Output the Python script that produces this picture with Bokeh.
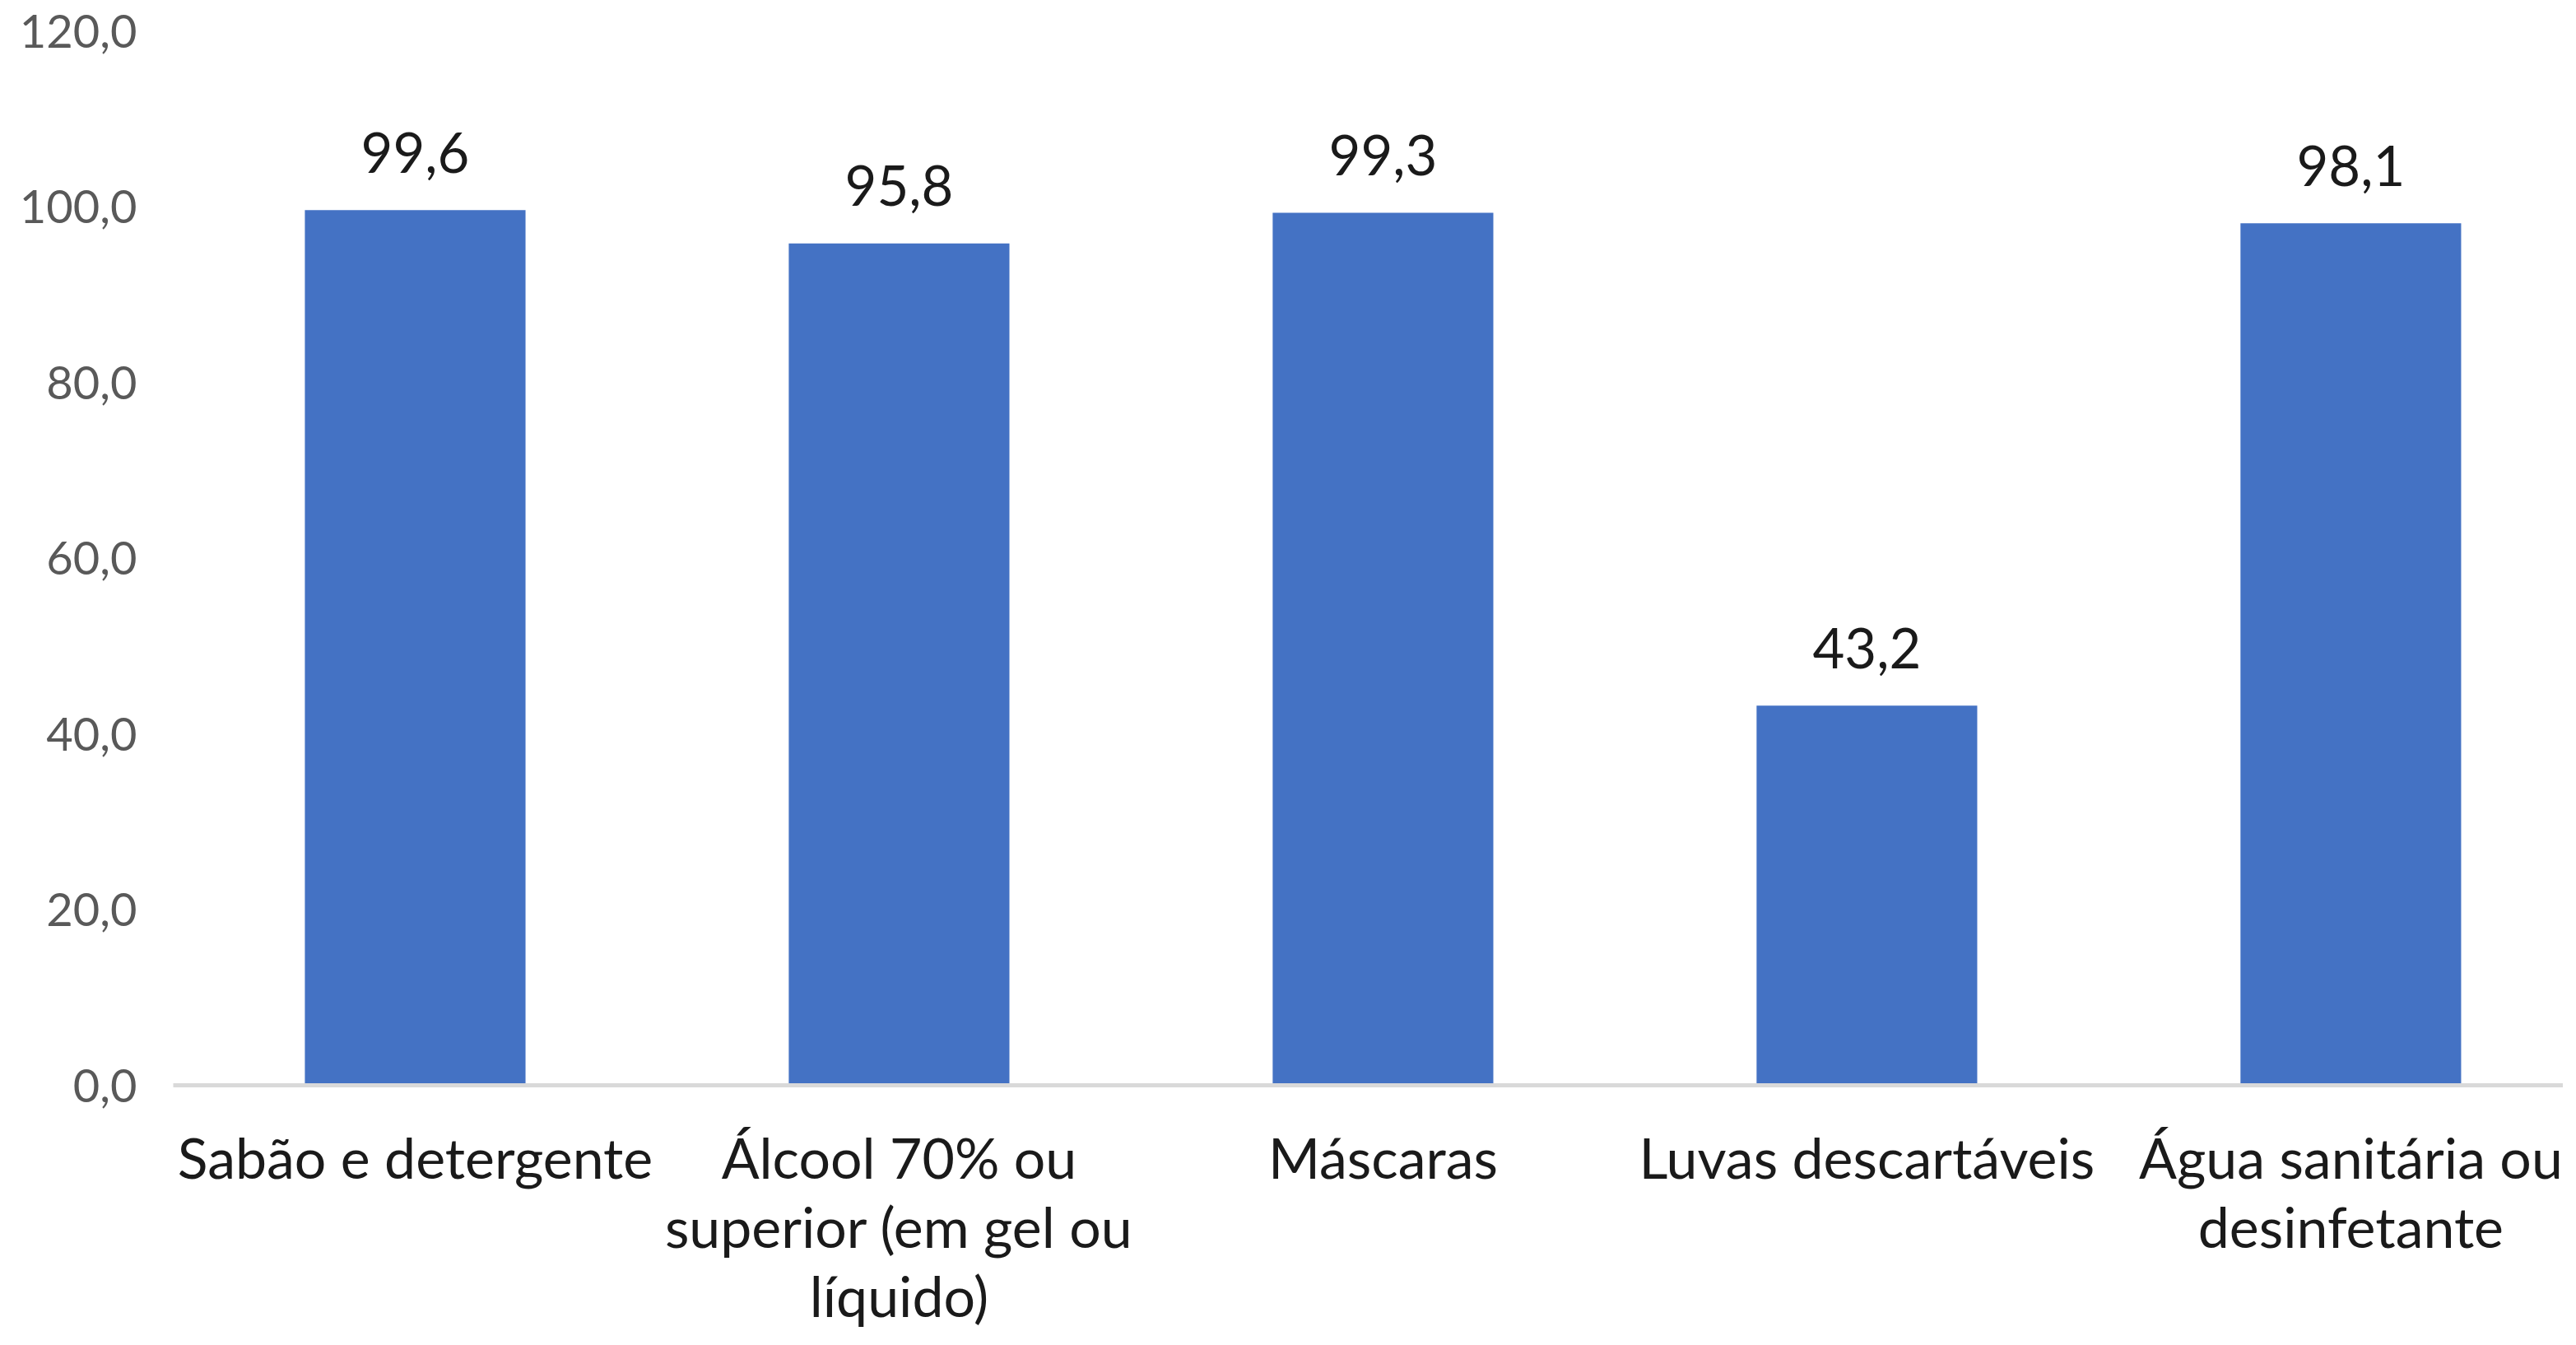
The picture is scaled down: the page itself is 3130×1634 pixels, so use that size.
from bokeh.plotting import figure
from bokeh.models import Range1d, FixedTicker, ColumnDataSource
from bokeh.core.properties import value
from bokeh.embed import file_html
from bokeh.resources import INLINE

categories = [
    "Sabão e detergente",
    "Álcool 70% ou\nsuperior (em gel ou\nlíquido)",
    "Máscaras",
    "Luvas descartáveis",
    "Água sanitária ou\ndesinfetante",
]
values = [99.6, 95.8, 99.3, 43.2, 98.1]
y_ticks = [0, 20, 40, 60, 80, 100, 120]
y_tick_labels = ["0,0", "20,0", "40,0", "60,0", "80,0", "100,0", "120,0"]

xs = list(range(len(categories)))
data_labels = [f"{v:.1f}".replace(".", ",") for v in values]
src = ColumnDataSource(dict(x=xs, top=values, label=data_labels))

FONT = "Lato"

p = figure(
    width=3114, height=1618,
    output_backend="svg", toolbar_location=None,
    x_range=Range1d(-0.5, 4.439), y_range=Range1d(0, 120),
    min_border_left=210, min_border_top=37, min_border_bottom=300, min_border_right=0,
)
p.outline_line_color = None
p.xgrid.grid_line_color = None
p.ygrid.grid_line_color = None

p.vbar(x="x", top="top", width=0.456, bottom=0, source=src,
       fill_color="#4472C4", line_color=None)

p.text(x="x", y="top", text="label", source=src,
       text_align="center", text_baseline="alphabetic", y_offset=-70,
       text_font=value(FONT), text_font_size="67px", text_color="#1a1a1a")

# x axis
xa = p.xaxis[0]
xa.ticker = FixedTicker(ticks=xs)
xa.major_label_overrides = {i: c for i, c in zip(xs, categories)}
xa.axis_line_color = "#d9d9d9"
xa.axis_line_width = 5
xa.major_tick_line_color = None
xa.minor_tick_line_color = None
xa.major_label_text_font = FONT
xa.major_label_text_font_size = "68px"
xa.major_label_text_color = "#1a1a1a"
xa.major_label_text_line_height = 1.04
xa.major_label_standoff = 40

# y axis
ya = p.yaxis[0]
ya.ticker = FixedTicker(ticks=y_ticks)
ya.major_label_overrides = {t: l for t, l in zip(y_ticks, y_tick_labels)}
ya.axis_line_color = None
ya.major_tick_line_color = None
ya.minor_tick_line_color = None
ya.major_label_text_font = FONT
ya.major_label_text_font_size = "56px"
ya.major_label_text_color = "#595959"
ya.major_label_standoff = 38

open("out.html", "w").write(file_html(p, INLINE))
